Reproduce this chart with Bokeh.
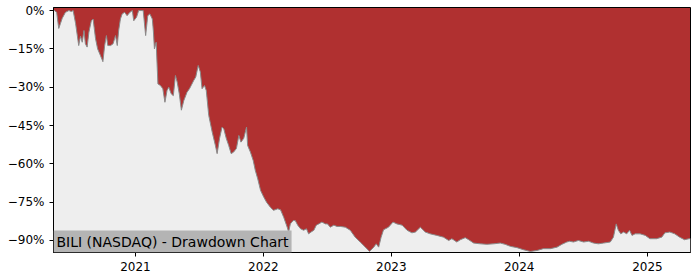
import pandas as pd
from bokeh.plotting import figure
from bokeh.models import FixedTicker, Label, Range1d, DatetimeTickFormatter
from bokeh.embed import file_html
from bokeh.resources import INLINE

title_text = "BILI (NASDAQ) - Drawdown Chart"

dates = [
    "2020-05-12", "2020-05-15", "2020-05-21", "2020-05-27", "2020-06-01", "2020-06-06", "2020-06-15",
    "2020-06-25", "2020-07-02", "2020-07-07", "2020-07-14", "2020-07-23", "2020-07-28", "2020-08-02",
    "2020-08-07", "2020-08-11", "2020-08-16", "2020-08-21", "2020-08-28", "2020-09-02", "2020-09-09",
    "2020-09-15", "2020-09-23", "2020-09-30", "2020-10-05", "2020-10-10", "2020-10-14", "2020-10-22",
    "2020-10-29", "2020-11-05", "2020-11-10", "2020-11-14", "2020-11-19", "2020-11-24", "2020-12-01",
    "2020-12-08", "2020-12-16", "2020-12-23", "2020-12-27", "2021-01-04", "2021-01-10", "2021-01-23",
    "2021-01-30", "2021-02-05", "2021-02-11", "2021-02-18", "2021-02-21", "2021-02-24", "2021-03-01",
    "2021-03-06", "2021-03-13", "2021-03-20", "2021-03-26", "2021-04-01", "2021-04-06", "2021-04-13",
    "2021-04-19", "2021-04-25", "2021-04-30", "2021-05-06", "2021-05-12", "2021-05-19", "2021-05-28",
    "2021-06-04", "2021-06-09", "2021-06-16", "2021-06-22", "2021-06-29", "2021-07-05", "2021-07-10",
    "2021-07-17", "2021-07-22", "2021-07-29", "2021-08-08", "2021-08-17", "2021-08-22", "2021-08-29",
    "2021-09-05", "2021-09-10", "2021-09-17", "2021-09-24", "2021-10-01", "2021-10-08", "2021-10-16",
    "2021-10-23", "2021-10-29", "2021-11-06", "2021-11-14", "2021-11-17", "2021-11-25", "2021-12-03",
    "2021-12-09", "2021-12-16", "2021-12-24", "2022-01-02", "2022-01-10", "2022-01-21", "2022-01-30",
    "2022-02-11", "2022-02-19", "2022-02-28", "2022-03-10", "2022-03-14", "2022-03-19", "2022-03-27",
    "2022-04-02", "2022-04-09", "2022-04-17", "2022-04-26", "2022-05-04", "2022-05-10", "2022-05-17",
    "2022-05-25", "2022-06-01", "2022-06-08", "2022-06-17", "2022-06-27", "2022-07-03", "2022-07-11",
    "2022-07-21", "2022-07-30", "2022-08-09", "2022-08-23", "2022-09-06", "2022-09-20", "2022-10-05",
    "2022-10-19", "2022-10-31", "2022-11-12", "2022-11-19", "2022-11-26", "2022-12-03", "2022-12-10",
    "2022-12-24", "2023-01-06", "2023-01-17", "2023-02-01", "2023-02-15", "2023-03-01", "2023-03-11",
    "2023-03-25", "2023-04-08", "2023-04-22", "2023-05-11", "2023-05-30", "2023-06-14", "2023-06-23",
    "2023-07-07", "2023-07-17", "2023-07-31", "2023-08-10", "2023-08-24", "2023-09-12", "2023-10-01",
    "2023-10-20", "2023-11-08", "2023-11-22", "2023-12-07", "2023-12-26", "2024-01-13", "2024-02-02",
    "2024-02-21", "2024-03-10", "2024-03-30", "2024-04-18", "2024-05-02", "2024-05-16", "2024-05-24",
    "2024-06-04", "2024-06-18", "2024-07-03", "2024-07-17", "2024-07-31", "2024-08-14", "2024-08-29",
    "2024-09-17", "2024-09-26", "2024-10-04", "2024-10-10", "2024-10-17", "2024-10-25", "2024-11-03",
    "2024-11-11", "2024-11-18", "2024-11-27", "2024-12-11", "2024-12-26", "2025-01-08", "2025-01-27",
    "2025-02-11", "2025-02-20", "2025-03-06", "2025-03-20", "2025-04-03", "2025-04-17", "2025-04-30",
    "2025-05-04",
]

drawdown = [
    0.0, 0.0, -0.7, -7.0, -5.0, -3.0, -0.7,
    0.0, -0.4, 0.0, -5.0, -13.7, -10.0, -12.4,
    -7.8, -13.0, -14.3, -8.5, -4.0, -3.3, -11.0,
    -15.0, -17.6, -20.0, -13.7, -9.8, -13.7, -13.7,
    -13.0, -9.8, -13.7, -7.8, -3.3, -1.3, -0.7,
    -2.0, -0.7, 0.0, -4.0, -2.6, 0.0, 0.0,
    -9.8, -2.0, -1.3, -3.3, -8.0, -15.0, -12.4,
    -28.7, -29.3, -30.6, -35.9, -31.3, -30.0, -32.6,
    -33.3, -25.4, -28.0, -32.6, -39.0, -35.2, -32.0,
    -30.6, -29.3, -27.4, -26.0, -21.5, -24.0, -30.6,
    -29.3, -31.3, -41.0, -47.6, -52.8, -56.0, -50.0,
    -45.6, -46.3, -50.0, -52.8, -56.0, -55.4, -54.0,
    -48.9, -51.5, -50.0, -45.6, -52.8, -55.4, -58.7,
    -62.6, -65.9, -70.4, -73.0, -75.0, -77.0, -78.2,
    -77.6, -78.0, -80.9, -84.8, -86.7, -83.5, -82.2,
    -82.2, -84.0, -85.4, -86.0, -85.4, -87.4, -86.7,
    -86.0, -84.0, -83.5, -82.8, -83.5, -83.5, -84.8,
    -84.0, -84.5, -84.5, -84.8, -86.0, -88.7, -90.7,
    -92.6, -94.3, -92.6, -91.3, -92.6, -88.7, -85.8,
    -84.8, -82.8, -83.5, -84.0, -86.0, -87.0, -86.7,
    -84.8, -86.7, -87.4, -88.0, -88.7, -90.0, -89.3,
    -90.6, -89.7, -88.9, -89.7, -91.0, -91.3, -91.5,
    -91.3, -91.0, -91.5, -92.3, -92.8, -93.6, -94.3,
    -93.9, -93.2, -93.2, -92.6, -91.5, -90.6, -90.3,
    -90.6, -90.0, -90.6, -90.3, -91.0, -91.3, -91.0,
    -90.6, -88.7, -83.5, -86.0, -87.4, -86.7, -87.4,
    -86.0, -88.0, -87.4, -87.4, -88.0, -89.3, -89.3,
    -88.7, -87.0, -86.7, -87.4, -88.7, -89.7, -89.3,
    -89.3,
]

y_ticks = [0, -15, -30, -45, -60, -75, -90]
y_tick_labels = ["0%", "\u221215%", "\u221230%", "\u221245%", "\u221260%", "\u221275%", "\u221290%"]
x_tick_years = ["2021", "2022", "2023", "2024", "2025"]

x = pd.to_datetime(dates)
x_start = pd.Timestamp("2020-05-12")
x_end = pd.Timestamp("2025-05-04")
y_bottom, y_top = -94.7, 1.2

p = figure(width=700, height=280, x_axis_type="datetime", output_backend="svg",
           toolbar_location=None,
           x_range=Range1d(x_start, x_end), y_range=Range1d(y_bottom, y_top),
           min_border_left=53, min_border_right=10, min_border_top=7, min_border_bottom=28)
p.background_fill_color = "#b03030"
p.border_fill_color = "white"
p.outline_line_color = "black"
p.outline_line_width = 1
p.grid.visible = False

p.varea(x=x, y1=drawdown, y2=y_bottom - 5, fill_color="#eeeeee")
p.line(x=x, y=drawdown, line_color="#8a8a8a", line_width=1)

p.yaxis.ticker = FixedTicker(ticks=y_ticks)
p.yaxis.major_label_overrides = dict(zip(y_ticks, y_tick_labels))
year_ms = [pd.Timestamp(y + "-01-01").value / 1e6 for y in x_tick_years]
p.xaxis.ticker = FixedTicker(ticks=year_ms)
p.xaxis.formatter = DatetimeTickFormatter(years="%Y", months="%Y", days="%Y", hours="%Y")

for ax in (p.xaxis, p.yaxis):
    ax.axis_line_color = "black"
    ax.major_tick_line_color = "black"
    ax.major_tick_out = 4
    ax.major_tick_in = 0
    ax.minor_tick_line_color = None
    ax.major_label_text_font = "DejaVu Sans"
    ax.major_label_text_font_size = "12px"
    ax.major_label_text_color = "black"

lbl = Label(x=x_start.value / 1e6, y=y_bottom, text=title_text, anchor="bottom_left",
            text_font="DejaVu Sans", text_font_size="14px", text_color="black",
            background_fill_color="#b4b4b4", padding=3)
p.add_layout(lbl)

open("out.html", "w").write(file_html(p, INLINE))
